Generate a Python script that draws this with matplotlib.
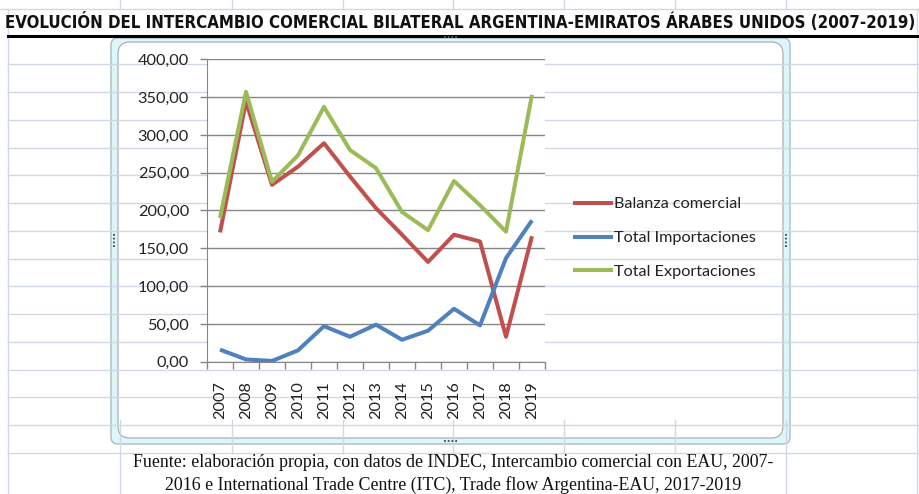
import numpy as np
import matplotlib.pyplot as plt
from matplotlib.patches import FancyBboxPatch

# data (millions USD)
years = ["2007", "2008", "2009", "2010", "2011", "2012", "2013",
         "2014", "2015", "2016", "2017", "2018", "2019"]
balanza = [171, 344, 234, 258, 289, 245, 203, 168, 132, 168, 159, 33, 166]
importaciones = [16, 3, 1, 15, 47, 33, 49, 29, 41, 70, 48, 137, 187]
exportaciones = [190, 357, 238, 273, 337, 280, 256, 198, 174, 239, 207, 172, 353]
yticks = [0, 50, 100, 150, 200, 250, 300, 350, 400]

series_names = ["Balanza comercial", "Total Importaciones", "Total Exportaciones"]
series_colors = ["#C0504D", "#4F81BD", "#9BBB59"]

title = "EVOLUCIÓN DEL INTERCAMBIO COMERCIAL BILATERAL ARGENTINA-EMIRATOS ÁRABES UNIDOS (2007-2019)"
source = ("Fuente: elaboración propia, con datos de INDEC, Intercambio comercial con EAU, 2007-\n"
          "2016 e International Trade Centre (ITC), Trade flow Argentina-EAU, 2017-2019")

W, H = 919, 494
fig = plt.figure(figsize=(W / 100, H / 100), dpi=100)
fig.patch.set_facecolor("white")

# spreadsheet background, drawn in pixel coordinates
bg = fig.add_axes([0, 0, 1, 1])
bg.set_xlim(0, W)
bg.set_ylim(H, 0)
bg.axis("off")
grid_c = "#D0D7E5"
rows = 64.3 + 27.75 * np.arange(15)
for y in rows:
    bg.plot([8, W], [y, y], color=grid_c, lw=1)
bg.plot([0, W], [9, 9], color=grid_c, lw=1)
cols = [120, 232, 343, 453, 564, 675, 786]
for x in cols:
    bg.plot([x, x], [0, 9], color=grid_c, lw=1)
    bg.plot([x, x], [420, 452.7], color=grid_c, lw=1)
bg.plot([8, 8], [9, H], color=grid_c, lw=1)
bg.plot([120, 120], [452.7, H], color=grid_c, lw=1)
bg.plot([786, 786], [452.7, H], color=grid_c, lw=1)
bg.plot([917, 917], [9, H], color=grid_c, lw=1)
bg.plot([8, W], [36, 36], color="black", lw=2.2)

# chart object frame
bg.add_patch(FancyBboxPatch((111, 38), 679, 406, boxstyle="round,pad=0,rounding_size=7",
                            facecolor="#DDF6FA", edgecolor="#A9BCC4", lw=1))
bg.add_patch(FancyBboxPatch((118, 42), 665, 396, boxstyle="round,pad=0,rounding_size=12",
                            facecolor="white", edgecolor="#A0A8AE", lw=0.8))
for (tx, ty, s, r) in [(114.5, 238, "····", 90), (786.5, 238, "····", 90),
                       (450, 38.5, "····", 0), (450, 441.5, "····", 0)]:
    bg.text(tx, ty, s, rotation=r, ha="center", va="center", fontsize=7,
            fontweight="bold", color="#555555")

# title, scaled to span the sheet width
t = fig.text(5 / W, 1 - 22 / H, title, ha="left", va="center", fontsize=14,
             fontweight="bold", fontstretch="condensed",
             family=["DejaVu Sans"], color="#111111")
fig.canvas.draw()
bb = t.get_window_extent()
t.set_fontsize(14 * 910 / bb.width)

# main chart
ax = fig.add_axes([207 / W, 1 - 361.7 / H, 338 / W, 302.4 / H])
x = np.arange(len(years))
for vals, name, c in zip([balanza, importaciones, exportaciones], series_names, series_colors):
    ax.plot(x, vals, color=c, lw=2.9, label=name, solid_joinstyle="round", solid_capstyle="butt")

tick_font = ["Lato", "DejaVu Sans"]
ax.set_xlim(-0.5, len(years) - 0.5)
ax.set_ylim(0, 400)
ax.set_yticks(yticks)
ax.set_yticklabels([f"{v:.2f}".replace(".", ",") for v in yticks], family=tick_font,
                   fontsize=11.7, color="#222222")
ax.yaxis.grid(True, color="#868686", lw=1)
ax.set_axisbelow(True)
ax.set_xticks(np.arange(len(years) + 1) - 0.5)
ax.set_xticklabels([])
ax.set_xticks(x, minor=True)
ax.set_xticklabels(years, minor=True, rotation=90, family=tick_font, fontsize=11.7, color="#222222")
ax.tick_params(axis="x", which="major", length=5, color="#868686", width=1)
ax.tick_params(axis="x", which="minor", length=0, pad=14)
ax.tick_params(axis="y", length=5, color="#868686", width=1, pad=8)
for side in ["top", "right"]:
    ax.spines[side].set_visible(False)
for side in ["left", "bottom"]:
    ax.spines[side].set_color("#868686")
ax.set_facecolor("white")

fig.legend(loc="center left", bbox_to_anchor=(558 / W, 1 - 238 / H), frameon=False,
           handlelength=2.5, handletextpad=0.05, labelspacing=1.2,
           prop={"family": tick_font, "size": 11.7}, labelcolor="#222222")

fig.text(453 / W, 1 - 474 / H, source, ha="center", va="center", fontsize=12.85,
         family=["Liberation Serif", "DejaVu Serif"], color="#111111", linespacing=1.3)

fig.savefig("out.png", dpi=100)
